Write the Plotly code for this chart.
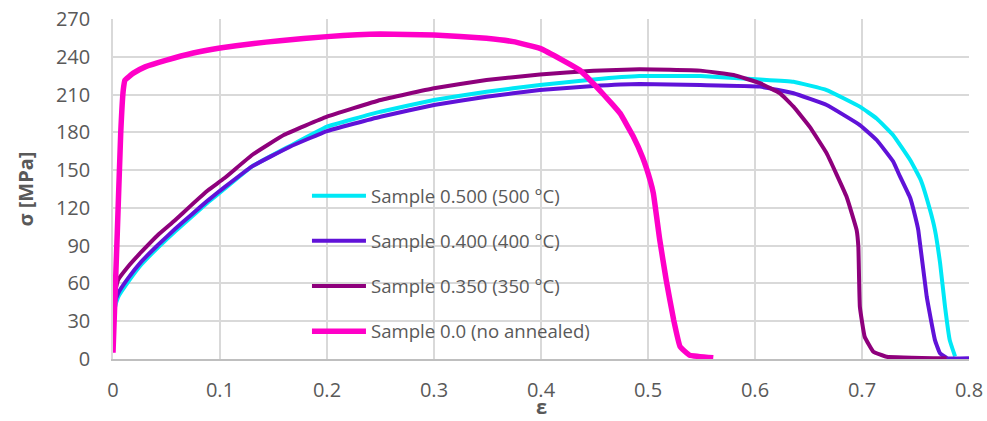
import plotly.graph_objects as go

# ---- data ----
names = ["Sample 0.500 (500 °C)", "Sample 0.400 (400 °C)",
         "Sample 0.350 (350 °C)", "Sample 0.0 (no annealed)"]
colors = ["#00E8F6", "#6012D8", "#8E007C", "#FF00C8"]

eps_500 = [0, 0.0016, 0.0047, 0.014, 0.0265, 0.042, 0.0577, 0.073, 0.0888, 0.104, 0.13, 0.165,
           0.2, 0.25, 0.3, 0.349, 0.399, 0.449, 0.492, 0.549, 0.6047, 0.636, 0.667, 0.698,
           0.7137, 0.729, 0.745, 0.755, 0.7636, 0.7682, 0.773, 0.7776, 0.782, 0.787]
sig_500 = [27, 40, 49, 61, 75, 88.5, 101, 112.5, 124.5, 135, 153, 169,
           184.5, 196.4, 205.7, 212.3, 217.6, 222, 224.7, 224.7, 222, 220.2, 213.6, 200.4,
           191, 177.9, 158, 142, 118.3, 102.4, 76, 41.5, 15, 2]

eps_400 = [0, 0.0016, 0.0047, 0.014, 0.0265, 0.042, 0.0577, 0.073, 0.0888, 0.104, 0.13, 0.1654,
           0.2, 0.25, 0.3, 0.349, 0.399, 0.449, 0.492, 0.549, 0.6047, 0.636, 0.667, 0.698,
           0.7137, 0.729, 0.7355, 0.745, 0.7495, 0.7526, 0.7605, 0.7682, 0.7729, 0.78, 0.8]
sig_400 = [28, 44, 52, 64, 77.3, 90.5, 103, 114.4, 126, 136.3, 153, 168.6,
           181, 192.4, 201.7, 208.3, 213.6, 216.8, 218.4, 217.5, 216.3, 211, 201.7, 185.8,
           173.9, 157, 145, 128, 114, 102.4, 49.5, 15, 4.5, 0.5, 0.5]

eps_350 = [0, 0.0016, 0.0047, 0.014, 0.0265, 0.042, 0.0577, 0.073, 0.0888, 0.104, 0.13, 0.16,
           0.2, 0.25, 0.3, 0.349, 0.399, 0.449, 0.492, 0.549, 0.58, 0.6047, 0.6234, 0.636,
           0.651, 0.667, 0.6855, 0.695, 0.6966, 0.698, 0.7025, 0.7106, 0.723, 0.779]
sig_350 = [30, 52, 62.7, 73.3, 85, 98.5, 110, 122, 134, 143.5, 162, 178,
           192.4, 205.7, 215, 221.5, 226, 229, 230, 229, 225.5, 219, 211, 200.4,
           184.5, 163.3, 129, 102.4, 89, 41.5, 17.7, 5.8, 1.8, 0.5]

eps_00 = [0, 0.004, 0.0072, 0.0096, 0.0112, 0.019, 0.03, 0.05, 0.075, 0.1, 0.13, 0.156,
          0.2, 0.25, 0.3, 0.349, 0.374, 0.399, 0.42, 0.436, 0.452, 0.467, 0.474, 0.486,
          0.495, 0.502, 0.505, 0.511, 0.517, 0.524, 0.53, 0.539, 0.561]
sig_00 = [5, 100, 179, 213.6, 221.5, 227, 232, 237.4, 243, 247, 250.4, 252.8,
          256, 258, 257.3, 254.7, 252, 246.7, 237.4, 229.5, 216, 202, 195, 177,
          160, 142, 131.6, 94.5, 62.7, 31, 9.8, 3, 1]

x_ticks = [0, 0.1, 0.2, 0.3, 0.4, 0.5, 0.6, 0.7, 0.8]
x_ticktext = ["0", "0.1", "0.2", "0.3", "0.4", "0.5", "0.6", "0.7", "0.8"]
y_ticks = [0, 30, 60, 90, 120, 150, 180, 210, 240, 270]
x_title = "ε"
y_title = "σ [MPa]"

series = [(eps_500, sig_500), (eps_400, sig_400), (eps_350, sig_350), (eps_00, sig_00)]
widths = [4, 4, 4, 5.5]

FONT = "Open Sans, Noto Sans, sans-serif"
GRAY = "#595959"

fig = go.Figure()
for (xs, ys), nm, col, w in zip(series, names, colors, widths):
    fig.add_trace(go.Scatter(x=xs, y=ys, mode="lines", name=nm, legendgroup=nm,
                             line=dict(color=col, width=w, shape="spline", smoothing=0.3)))

# white legend panel that hides the gridlines behind the legend
fig.add_shape(type="rect", xref="paper", yref="paper", x0=0.181, x1=0.606, y0=0.006, y1=0.55,
              fillcolor="white", line=dict(width=0), layer="between")

# x-axis title placed below the tick labels, at the bottom edge of the figure
fig.add_annotation(text=f"<b>{x_title}</b>", xref="paper", yref="paper", x=0.5, y=-0.1824,
                   xanchor="center", yanchor="bottom", showarrow=False, borderpad=0,
                   font=dict(family=FONT, size=20, color=GRAY))

fig.update_layout(
    width=987, height=421,
    margin=dict(l=113, r=18, t=19, b=62, autoexpand=False),
    paper_bgcolor="white", plot_bgcolor="white",
    font=dict(family=FONT, size=20, color=GRAY),
    showlegend=True,
    legend=dict(x=0.2266, y=0.535, xanchor="left", yanchor="top",
                bgcolor="rgba(0,0,0,0)", font=dict(size=18.6, color=GRAY),
                tracegroupgap=18, itemwidth=54),
    xaxis=dict(range=[0, 0.8], tickvals=x_ticks, ticktext=x_ticktext, automargin=False,
               showgrid=True, gridcolor="#D9D9D9", gridwidth=1.5,
               zeroline=False, showline=True, linecolor="#BFBFBF", linewidth=1.5,
               ticks="", ticklabelstandoff=12, tickfont=dict(size=20, color=GRAY)),
    yaxis=dict(range=[0, 270], tickvals=y_ticks, automargin=False,
               showgrid=True, gridcolor="#D9D9D9", gridwidth=1.5,
               zeroline=False, showline=True, linecolor="#D9D9D9", linewidth=1.5,
               ticks="", ticklabelstandoff=17, tickfont=dict(size=20, color=GRAY),
               title=dict(text=f"<b>{y_title}</b>", font=dict(size=20, color=GRAY), standoff=17)),
)

fig.write_html("out.html", config={"displayModeBar": False},
               post_script="document.body.style.margin='0';document.body.style.overflow='hidden';")
